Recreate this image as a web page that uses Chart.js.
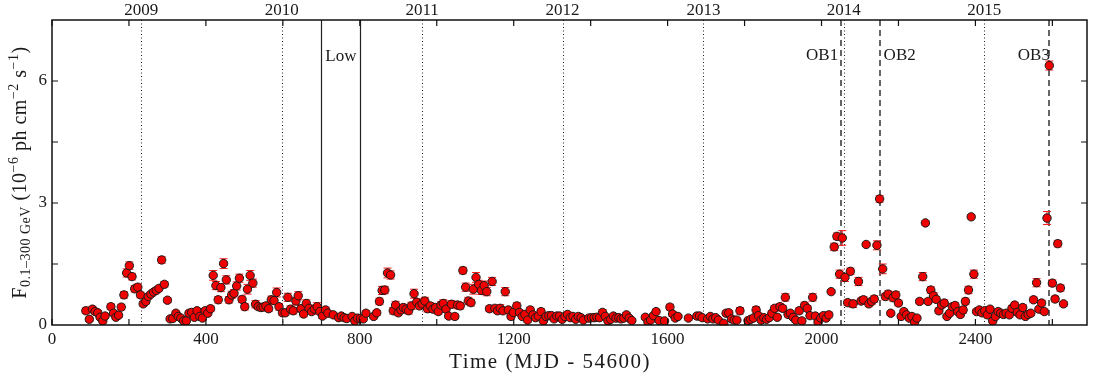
<!DOCTYPE html>
<html>
<head>
<meta charset="utf-8">
<script src="https://cdn.jsdelivr.net/npm/chart.js@4/dist/chart.umd.min.js"></script>
<style>
  body { margin: 0; background: #fff; }
  canvas { display: block; }
</style>
</head>
<body>
<canvas id="lightCurve" width="1097" height="376"></canvas>
<script>
// time in MJD - 54600, flux in 1e-6 ph cm^-2 s^-1
const mjdTimes = [
  88, 97, 105, 112, 119, 125, 132, 138, 153, 160, 166, 173, 180, 187, 194, 201, 208, 215, 223, 230,
  237, 244, 250, 257, 264, 271, 278, 285, 292, 300, 307, 314, 322, 328, 335, 342, 349, 356, 363, 370,
  377, 384, 391, 398, 405, 412, 419, 426, 432, 439, 446, 453, 460, 467, 473, 480, 487, 494, 501, 508,
  515, 522, 529, 536, 543, 549, 556, 563, 570, 577, 584, 590,
  599, 606, 613, 620, 627, 634, 640, 647, 654, 661, 668, 675, 682, 689, 696, 703, 711, 717, 731, 745,
  752, 759, 766, 780, 787, 794, 802, 809, 816, 836, 844, 851, 858, 865, 872, 880, 887, 893, 900, 907,
  913, 920, 927, 934, 941, 948, 955, 962, 969, 976, 983, 990, 997, 1004, 1011, 1017, 1024, 1031, 1038, 1047,
  1054, 1061, 1068, 1075, 1082, 1089, 1095,
  1102, 1109, 1116, 1123, 1130, 1137, 1144, 1151, 1158, 1165, 1172, 1178, 1186, 1193, 1199, 1208, 1215, 1222, 1229, 1236,
  1243, 1250, 1257, 1264, 1271, 1277, 1284, 1291, 1298, 1305, 1312, 1319, 1326, 1333, 1340, 1347, 1354, 1361, 1368, 1375,
  1381, 1395, 1402, 1409, 1416, 1423, 1431, 1438, 1445, 1452, 1459, 1466, 1473, 1479, 1486, 1493, 1500, 1507, 1542, 1549,
  1556, 1563, 1570, 1578, 1592, 1606, 1613, 1620, 1627,
  1654, 1676, 1683, 1690, 1704, 1711, 1718, 1725, 1732, 1746, 1752, 1759, 1766, 1773, 1780, 1788, 1809, 1816, 1823, 1830,
  1836, 1843, 1850, 1857, 1864, 1871, 1878, 1885, 1892, 1899, 1906, 1913, 1919, 1926, 1933, 1942, 1949, 1956, 1963, 1970,
  1977, 1984, 1991, 1998, 2005, 2012, 2019, 2025, 2033, 2040, 2047, 2054, 2061, 2068, 2075, 2082, 2096, 2103, 2109, 2116,
  2123, 2130, 2137, 2144, 2151,
  2159, 2166, 2173, 2180, 2186, 2193, 2200, 2207, 2214, 2221, 2228, 2235, 2242, 2248, 2255, 2263, 2270, 2277, 2284, 2291,
  2298, 2305, 2312, 2319, 2326, 2333, 2340, 2347, 2354, 2361, 2368, 2374, 2382, 2389, 2396, 2403, 2410, 2417, 2424, 2431,
  2438, 2445, 2452, 2459, 2466, 2473, 2480, 2488, 2495, 2502, 2509, 2516, 2523, 2530, 2537, 2544, 2551, 2559, 2565, 2572,
  2579, 2586, 2592, 2600, 2607, 2614, 2621, 2629
];

const flux = [
  0.35, 0.14, 0.39, 0.33, 0.30, 0.19, 0.10, 0.22, 0.45, 0.29, 0.19, 0.24, 0.44, 0.74, 1.28, 1.46, 1.19, 0.89, 0.93, 0.74,
  0.52, 0.58, 0.70, 0.76, 0.81, 0.85, 0.90, 1.60, 1.00, 0.61, 0.15, 0.16, 0.29, 0.21, 0.17, 0.10, 0.10, 0.29, 0.31, 0.19,
  0.35, 0.21, 0.17, 0.35, 0.29, 0.40, 1.22, 0.97, 0.62, 0.92, 1.51, 1.11, 0.62, 0.74, 0.78, 0.96, 1.15, 0.63, 0.45, 0.88,
  1.22, 1.03, 0.51, 0.45, 0.43, 0.44, 0.47, 0.40, 0.62, 0.60, 0.80, 0.45,
  0.30, 0.30, 0.68, 0.39, 0.35, 0.59, 0.72, 0.40, 0.27, 0.53, 0.41, 0.33, 0.39, 0.45, 0.33, 0.22, 0.37, 0.29, 0.25, 0.18,
  0.22, 0.18, 0.16, 0.21, 0.10, 0.17, 0.16, 0.15, 0.29, 0.21, 0.30, 0.58, 0.85, 0.86, 1.28, 1.23, 0.35, 0.49, 0.30, 0.37,
  0.43, 0.39, 0.35, 0.47, 0.77, 0.56, 0.47, 0.52, 0.59, 0.40, 0.47, 0.39, 0.43, 0.33, 0.49, 0.53, 0.39, 0.22, 0.51, 0.21,
  0.49, 0.47, 1.34, 0.93, 0.59, 0.55, 0.88,
  1.17, 1.00, 0.85, 0.97, 0.82, 0.40, 1.07, 0.41, 0.35, 0.41, 0.35, 0.82, 0.37, 0.21, 0.31, 0.47, 0.31, 0.21, 0.26, 0.12,
  0.37, 0.25, 0.18, 0.22, 0.33, 0.10, 0.21, 0.23, 0.23, 0.15, 0.22, 0.22, 0.14, 0.21, 0.26, 0.18, 0.21, 0.14, 0.21, 0.18,
  0.12, 0.17, 0.18, 0.18, 0.19, 0.18, 0.31, 0.21, 0.10, 0.14, 0.22, 0.17, 0.18, 0.15, 0.17, 0.25, 0.17, 0.11, 0.19, 0.07,
  0.12, 0.23, 0.33, 0.11, 0.10, 0.44, 0.27, 0.17, 0.21,
  0.17, 0.22, 0.22, 0.18, 0.15, 0.21, 0.15, 0.18, 0.12, 0.04, 0.29, 0.30, 0.15, 0.12, 0.12, 0.35, 0.11, 0.14, 0.17, 0.37,
  0.23, 0.12, 0.18, 0.14, 0.18, 0.29, 0.41, 0.19, 0.45, 0.41, 0.68, 0.26, 0.29, 0.19, 0.12, 0.35, 0.10, 0.48, 0.41, 0.23,
  0.68, 0.22, 0.07, 0.17, 0.23, 0.17, 0.25, 0.82, 1.92, 2.18, 1.25, 2.14, 1.17, 0.55, 1.32, 0.52, 1.07, 0.59, 0.62, 1.98,
  0.52, 0.58, 0.64, 1.96, 3.10,
  1.38, 0.70, 0.76, 0.29, 0.67, 0.74, 0.54, 0.21, 0.33, 0.25, 0.17, 0.21, 0.07, 0.17, 0.58, 1.19, 2.51, 0.58, 0.86, 0.72,
  0.63, 0.35, 0.49, 0.54, 0.21, 0.29, 0.45, 0.48, 0.33, 0.26, 0.37, 0.58, 0.86, 2.66, 1.25, 0.33, 0.37, 0.30, 0.35, 0.25,
  0.39, 0.10, 0.21, 0.33, 0.29, 0.26, 0.29, 0.25, 0.41, 0.49, 0.31, 0.25, 0.43, 0.21, 0.26, 0.29, 0.62, 1.04, 0.39, 0.54,
  0.33, 2.63, 6.38, 1.03, 0.64, 2.00, 0.91, 0.52
];

const fluxErr = [
  0.07, 0.05, 0.07, 0.06, 0.06, 0.05, 0.05, 0.05, 0.07, 0.06, 0.05, 0.05, 0.07, 0.08, 0.10, 0.09, 0.08, 0.08, 0.08, 0.07,
  0.06, 0.06, 0.06, 0.06, 0.06, 0.06, 0.06, 0.08, 0.07, 0.06, 0.04, 0.04, 0.05, 0.05, 0.04, 0.04, 0.04, 0.05, 0.05, 0.05,
  0.06, 0.05, 0.05, 0.06, 0.06, 0.07, 0.12, 0.10, 0.08, 0.10, 0.12, 0.10, 0.08, 0.09, 0.09, 0.10, 0.10, 0.08, 0.08, 0.12,
  0.12, 0.10, 0.09, 0.07, 0.07, 0.07, 0.07, 0.07, 0.09, 0.09, 0.11, 0.08,
  0.07, 0.07, 0.10, 0.08, 0.08, 0.09, 0.10, 0.08, 0.07, 0.09, 0.08, 0.07, 0.08, 0.10, 0.07, 0.06, 0.07, 0.06, 0.06, 0.05,
  0.05, 0.05, 0.05, 0.05, 0.04, 0.05, 0.05, 0.05, 0.06, 0.06, 0.06, 0.08, 0.10, 0.09, 0.12, 0.10, 0.08, 0.09, 0.07, 0.08,
  0.08, 0.08, 0.08, 0.09, 0.11, 0.09, 0.08, 0.09, 0.09, 0.08, 0.08, 0.08, 0.08, 0.07, 0.08, 0.09, 0.08, 0.06, 0.09, 0.06,
  0.09, 0.08, 0.08, 0.10, 0.09, 0.08, 0.12,
  0.12, 0.10, 0.10, 0.11, 0.10, 0.07, 0.10, 0.07, 0.07, 0.09, 0.07, 0.10, 0.07, 0.06, 0.07, 0.08, 0.06, 0.05, 0.06, 0.05,
  0.07, 0.06, 0.05, 0.05, 0.07, 0.04, 0.05, 0.05, 0.05, 0.05, 0.05, 0.05, 0.05, 0.05, 0.06, 0.05, 0.05, 0.05, 0.05, 0.05,
  0.04, 0.05, 0.05, 0.05, 0.05, 0.05, 0.07, 0.05, 0.04, 0.05, 0.05, 0.05, 0.05, 0.05, 0.05, 0.06, 0.05, 0.04, 0.05, 0.04,
  0.04, 0.05, 0.06, 0.04, 0.04, 0.07, 0.06, 0.05, 0.05,
  0.05, 0.05, 0.05, 0.05, 0.05, 0.05, 0.05, 0.05, 0.04, 0.04, 0.06, 0.06, 0.05, 0.05, 0.05, 0.08, 0.04, 0.04, 0.05, 0.08,
  0.06, 0.05, 0.05, 0.05, 0.05, 0.06, 0.07, 0.05, 0.08, 0.07, 0.09, 0.06, 0.06, 0.05, 0.05, 0.07, 0.05, 0.08, 0.07, 0.06,
  0.09, 0.06, 0.05, 0.05, 0.06, 0.06, 0.07, 0.05, 0.09, 0.08, 0.10, 0.18, 0.10, 0.07, 0.08, 0.09, 0.10, 0.07, 0.08, 0.05,
  0.07, 0.08, 0.08, 0.11, 0.08,
  0.12, 0.08, 0.08, 0.05, 0.08, 0.08, 0.07, 0.05, 0.06, 0.05, 0.05, 0.05, 0.04, 0.05, 0.06, 0.10, 0.05, 0.06, 0.08, 0.08,
  0.07, 0.07, 0.07, 0.08, 0.05, 0.06, 0.08, 0.07, 0.06, 0.06, 0.08, 0.08, 0.09, 0.05, 0.10, 0.06, 0.06, 0.06, 0.06, 0.06,
  0.06, 0.05, 0.05, 0.06, 0.06, 0.06, 0.06, 0.06, 0.07, 0.07, 0.06, 0.06, 0.07, 0.05, 0.06, 0.06, 0.07, 0.10, 0.06, 0.07,
  0.06, 0.16, 0.11, 0.08, 0.07, 0.08, 0.08, 0.06
];

const yearLabels = ['2009', '2010', '2011', '2012', '2013', '2014', '2015'];
const yearDays = [232, 597, 962, 1327, 1693, 2058, 2423];   // 1 January of each year
const lowEdges = [700, 800];
const flareDays = [2051, 2151, 2591];
const flareLabels = ['OB1', 'OB2', 'OB3'];

const FONT = '"Liberation Serif", "Times New Roman", serif';
const INK = '#1a1a1a';

const decorations = {
    id: 'decorations',
    beforeDatasetsDraw(chart) {
        const { ctx, chartArea: a, scales: { x, y } } = chart;
        ctx.save();

        // year boundaries, dotted
        ctx.strokeStyle = '#222';
        ctx.lineWidth = 1;
        ctx.setLineDash([1, 2.5]);
        yearDays.forEach((d) => {
            const px = Math.round(x.getPixelForValue(d)) + 0.5;
            ctx.beginPath(); ctx.moveTo(px, a.top); ctx.lineTo(px, a.bottom); ctx.stroke();
        });

        // low state edges, solid
        ctx.setLineDash([]);
        ctx.lineWidth = 1.2;
        lowEdges.forEach((d) => {
            const px = Math.round(x.getPixelForValue(d)) + 0.5;
            ctx.beginPath(); ctx.moveTo(px, a.top); ctx.lineTo(px, a.bottom); ctx.stroke();
        });

        // outbursts, dashed
        ctx.strokeStyle = '#333';
        ctx.lineWidth = 1.5;
        ctx.setLineDash([6, 4]);
        flareDays.forEach((d) => {
            const px = Math.round(x.getPixelForValue(d));
            ctx.beginPath(); ctx.moveTo(px, a.top); ctx.lineTo(px, a.bottom); ctx.stroke();
        });
        ctx.setLineDash([]);

        // error bars
        ctx.strokeStyle = '#ff1a1a';
        ctx.lineWidth = 1;
        mjdTimes.forEach((t, i) => {
            const px = x.getPixelForValue(t);
            const lo = y.getPixelForValue(flux[i] - fluxErr[i]);
            const hi = y.getPixelForValue(flux[i] + fluxErr[i]);
            ctx.beginPath();
            ctx.moveTo(px, lo); ctx.lineTo(px, hi);
            ctx.moveTo(px - 4, lo); ctx.lineTo(px + 4, lo);
            ctx.moveTo(px - 4, hi); ctx.lineTo(px + 4, hi);
            ctx.stroke();
        });
        ctx.restore();
    },
    afterDraw(chart) {
        const { ctx, chartArea: a, scales: { x, y } } = chart;
        ctx.save();

        // frame
        ctx.strokeStyle = '#111';
        ctx.lineWidth = 1.5;
        ctx.strokeRect(a.left, a.top, a.right - a.left, a.bottom - a.top);

        // inward ticks on all four sides
        ctx.lineWidth = 1.2;
        ctx.beginPath();
        for (let t = 0; t <= 2600; t += 200) {
            const px = x.getPixelForValue(t);
            ctx.moveTo(px, a.bottom); ctx.lineTo(px, a.bottom - 6);
            ctx.moveTo(px, a.top); ctx.lineTo(px, a.top + 6);
        }
        for (let v = 1.5; v <= 6; v += 1.5) {
            const py = y.getPixelForValue(v);
            ctx.moveTo(a.left, py); ctx.lineTo(a.left + 6, py);
            ctx.moveTo(a.right, py); ctx.lineTo(a.right - 6, py);
        }
        ctx.stroke();

        // texts
        ctx.fillStyle = INK;
        ctx.font = `17px ${FONT}`;
        ctx.textBaseline = 'middle';
        ctx.textAlign = 'center';
        yearDays.forEach((d, i) => {
            ctx.fillText(yearLabels[i], x.getPixelForValue(d), 11);
        });

        ctx.textAlign = 'left';
        ctx.fillText('Low', x.getPixelForValue(lowEdges[0]) + 4, 57);
        ctx.textAlign = 'right';
        ctx.fillText(flareLabels[0], x.getPixelForValue(flareDays[0]) - 3, 56);
        ctx.textAlign = 'left';
        ctx.fillText(flareLabels[1], x.getPixelForValue(flareDays[1]) + 4, 56);
        ctx.textAlign = 'right';
        ctx.fillText(flareLabels[2], x.getPixelForValue(flareDays[2]) + 1, 56);

        // x title
        ctx.letterSpacing = '1.5px';
        ctx.font = `21px ${FONT}`;
        ctx.textAlign = 'center';
        ctx.fillText('Time (MJD - 54600)', 550, 362);

        // y title with sub- and superscripts
        const parts = [
            ['F', 20, 0], ['0.1\u2013300 GeV', 14, 4], [' (10', 20, 0], ['\u22126', 14, -8],
            [' ph cm', 20, 0], ['\u22122', 14, -8], [' s', 20, 0], ['\u22121', 14, -8], [')', 20, 0]
        ];
        ctx.letterSpacing = '0.5px';
        ctx.translate(19, (a.top + a.bottom) / 2);
        ctx.rotate(-Math.PI / 2);
        ctx.textAlign = 'left';
        ctx.textBaseline = 'alphabetic';
        let total = 0;
        parts.forEach(([s, size]) => { ctx.font = `${size}px ${FONT}`; total += ctx.measureText(s).width; });
        let pos = -total / 2;
        parts.forEach(([s, size, dy]) => {
            ctx.font = `${size}px ${FONT}`;
            ctx.fillText(s, pos, 7 + dy);
            pos += ctx.measureText(s).width;
        });
        ctx.restore();
    }
};

const points = mjdTimes.map((t, i) => ({ x: t, y: flux[i] }));

new Chart(document.getElementById('lightCurve'), {
    type: 'scatter',
    data: {
        datasets: [{
            data: points,
            pointRadius: 4.2,
            pointBackgroundColor: '#f00000',
            pointBorderColor: '#1a1a1a',
            pointBorderWidth: 1,
        }]
    },
    options: {
        responsive: false,
        animation: false,
        layout: { padding: { top: 20, right: 10, left: 0, bottom: 0 } },
        plugins: { legend: { display: false }, tooltip: { enabled: false } },
        scales: {
            x: {
                type: 'linear',
                min: 0,
                max: 2690,
                grid: { display: false, drawTicks: false },
                border: { display: false },
                ticks: {
                    stepSize: 200,
                    autoSkip: false,
                    maxRotation: 0,
                    padding: 4,
                    color: INK,
                    font: { family: FONT, size: 17 },
                    callback: (v) => (v % 400 === 0 ? String(v) : ''),
                },
                afterFit: (scale) => { scale.height = 51; },
            },
            y: {
                min: 0,
                max: 7.5,
                grid: { display: false, drawTicks: false },
                border: { display: false },
                ticks: {
                    stepSize: 1.5,
                    autoSkip: false,
                    padding: 5,
                    color: INK,
                    font: { family: FONT, size: 17 },
                    callback: (v) => ([0, 3, 6].includes(v) ? String(v) : ''),
                },
                afterFit: (scale) => { scale.width = 52; },
            }
        }
    },
    plugins: [decorations]
});
</script>
</body>
</html>
